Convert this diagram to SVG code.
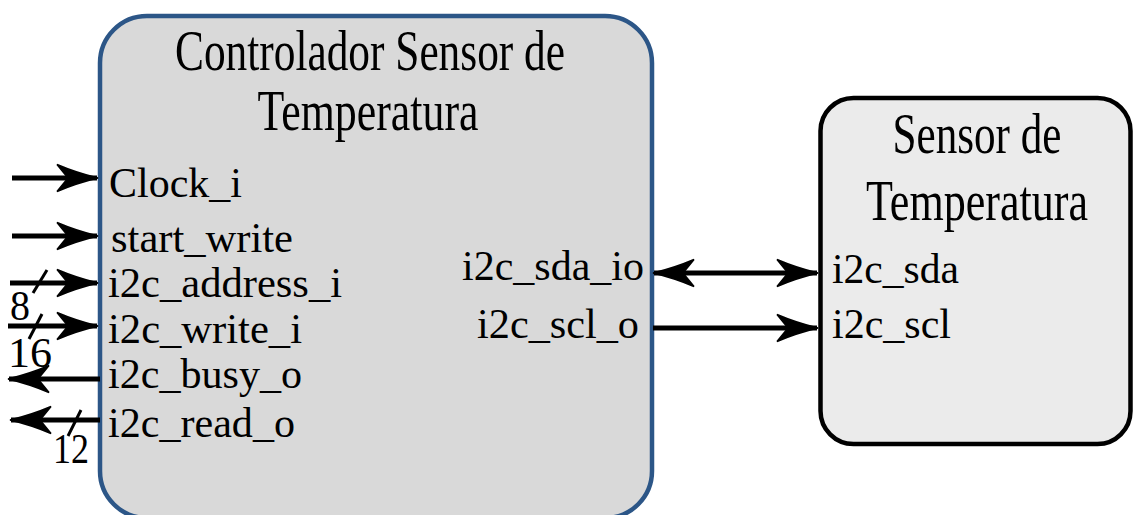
<svg xmlns="http://www.w3.org/2000/svg" width="1133" height="515" viewBox="0 0 1133 515">
  <style>
    .title { font-family: "Liberation Serif", "Times New Roman", serif; font-size: 56px; fill: #000; }
    .port { font-family: "Liberation Serif", "Times New Roman", serif; font-size: 42px; fill: #000; }
    .wire { stroke: #000; stroke-width: 5; fill: none; }
    .tick { stroke: #000; stroke-width: 3; fill: none; }
  </style>
  <defs>
    <marker id="head" markerUnits="userSpaceOnUse" markerWidth="46" markerHeight="34" viewBox="-44 -16 46 32" refX="0" refY="0" orient="auto-start-reverse" overflow="visible">
      <path d="M1,0 Q-20,-5 -40,-13.5 L-29,0 L-40,13.5 Q-20,5 1,0 Z" fill="#000" stroke="#000" stroke-width="1.5" stroke-linejoin="miter"/>
    </marker>
  </defs>

  <!-- controller block -->
  <g id="controlador">
    <rect x="100" y="16" width="552" height="502" rx="47" ry="47" fill="#d9d9d9" stroke="#2c5687" stroke-width="4.5"/>
    <text class="title" x="370" y="70" text-anchor="middle" textLength="390" lengthAdjust="spacingAndGlyphs">Controlador Sensor de</text>
    <text class="title" x="368" y="130" text-anchor="middle" textLength="221" lengthAdjust="spacingAndGlyphs">Temperatura</text>
    <text class="port" x="109" y="197" textLength="133" lengthAdjust="spacingAndGlyphs">Clock_i</text>
    <text class="port" x="111" y="252" textLength="182" lengthAdjust="spacingAndGlyphs">start_write</text>
    <text class="port" x="108" y="297" textLength="234" lengthAdjust="spacingAndGlyphs">i2c_address_i</text>
    <text class="port" x="108" y="343" textLength="194" lengthAdjust="spacingAndGlyphs">i2c_write_i</text>
    <text class="port" x="108" y="388" textLength="194" lengthAdjust="spacingAndGlyphs">i2c_busy_o</text>
    <text class="port" x="108" y="437" textLength="187" lengthAdjust="spacingAndGlyphs">i2c_read_o</text>
    <text class="port" x="644" y="280" text-anchor="end" textLength="182" lengthAdjust="spacingAndGlyphs">i2c_sda_io</text>
    <text class="port" x="639" y="338" text-anchor="end" textLength="162" lengthAdjust="spacingAndGlyphs">i2c_scl_o</text>
  </g>

  <!-- temperature sensor block -->
  <g id="sensor">
    <rect x="820.5" y="98" width="310" height="346" rx="33" ry="33" fill="#ebebeb" stroke="#000" stroke-width="4.5"/>
    <text class="title" x="977" y="153" text-anchor="middle" textLength="169" lengthAdjust="spacingAndGlyphs">Sensor de</text>
    <text class="title" x="977" y="220" text-anchor="middle" textLength="222" lengthAdjust="spacingAndGlyphs">Temperatura</text>
    <text class="port" x="832" y="283" textLength="127" lengthAdjust="spacingAndGlyphs">i2c_sda</text>
    <text class="port" x="832" y="338" textLength="119" lengthAdjust="spacingAndGlyphs">i2c_scl</text>
  </g>

  <!-- signals -->
  <g id="connectors">
    <line class="wire" x1="12" y1="178" x2="97" y2="178" marker-end="url(#head)"/>
    <line class="wire" x1="12" y1="236" x2="97" y2="236" marker-end="url(#head)"/>
    <line class="wire" x1="10" y1="283" x2="97" y2="283" marker-end="url(#head)"/>
    <line class="wire" x1="8" y1="326" x2="97" y2="326" marker-end="url(#head)"/>
    <line class="wire" x1="100" y1="379" x2="9" y2="379" marker-end="url(#head)"/>
    <line class="wire" x1="100" y1="420" x2="11" y2="420" marker-end="url(#head)"/>
    <line class="wire" x1="654" y1="273" x2="817" y2="273" marker-start="url(#head)" marker-end="url(#head)"/>
    <line class="wire" x1="653" y1="328" x2="817" y2="328" marker-end="url(#head)"/>

    <!-- bus width ticks -->
    <line class="tick" x1="33" y1="293" x2="47" y2="270"/>
    <line class="tick" x1="29" y1="339" x2="42" y2="314"/>
    <line class="tick" x1="68" y1="436" x2="81" y2="410"/>
    <text class="port" x="10" y="320" textLength="20" lengthAdjust="spacingAndGlyphs">8</text>
    <text class="port" x="8" y="367" textLength="44" lengthAdjust="spacingAndGlyphs">16</text>
    <text class="port" x="53" y="463" textLength="36" lengthAdjust="spacingAndGlyphs">12</text>
  </g>
</svg>
